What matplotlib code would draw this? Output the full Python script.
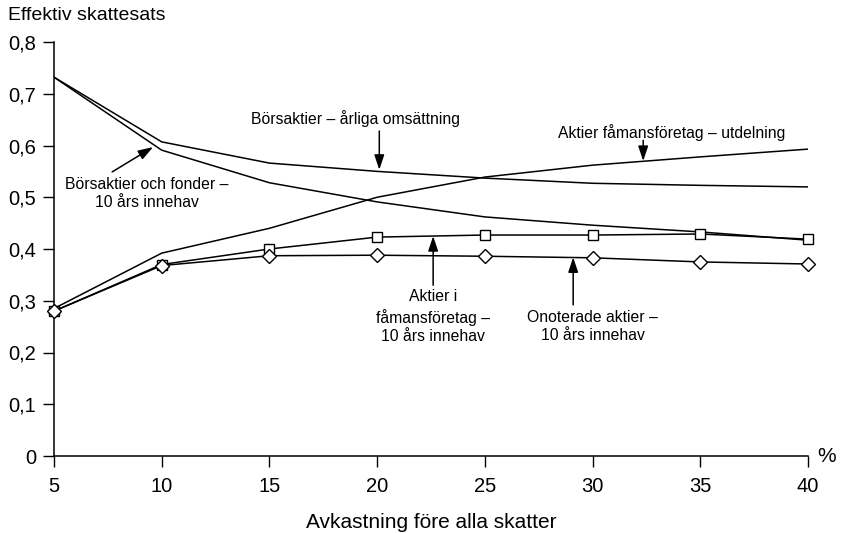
import matplotlib
matplotlib.use("Agg")
import matplotlib.pyplot as plt

plt.rcParams['font.family'] = ['Liberation Sans', 'DejaVu Sans']

# data
avkastning = [5, 10, 15, 20, 25, 30, 35, 40]
bors_arlig = [0.732, 0.607, 0.566, 0.550, 0.537, 0.527, 0.523, 0.520]
bors_10ar = [0.732, 0.591, 0.528, 0.491, 0.462, 0.446, 0.433, 0.417]
faman_utd = [0.285, 0.392, 0.440, 0.500, 0.539, 0.562, 0.578, 0.593]
faman_10ar = [0.280, 0.370, 0.400, 0.423, 0.427, 0.427, 0.429, 0.419]
onoterade_10ar = [0.280, 0.368, 0.387, 0.388, 0.386, 0.383, 0.375, 0.371]

yticks = [0, 0.1, 0.2, 0.3, 0.4, 0.5, 0.6, 0.7, 0.8]
ytick_labels = ['0', '0,1', '0,2', '0,3', '0,4', '0,5', '0,6', '0,7', '0,8']

fig = plt.figure(figsize=(8.41, 5.33), dpi=100)
ax = fig.add_axes([54/841, 1-456/533, (808-54)/841, (456-42)/533])

ax.plot(avkastning, bors_arlig, color='black', lw=1.1)
ax.plot(avkastning, bors_10ar, color='black', lw=1.1)
ax.plot(avkastning, faman_utd, color='black', lw=1.1)
ax.plot(avkastning, faman_10ar, color='black', lw=1.1, marker='s', ms=6.5,
        mfc='white', mec='black', mew=1.0, zorder=3, clip_on=False)
ax.plot(avkastning, onoterade_10ar, color='black', lw=1.1, marker='D', ms=7.5,
        mfc='white', mec='black', mew=1.0, zorder=4, clip_on=False)

ax.set_xlim(5, 40)
ax.set_ylim(0, 0.8)
ax.set_xticks(avkastning)
ax.set_yticks(yticks)
ax.set_yticklabels(ytick_labels)
ax.spines['top'].set_visible(False)
ax.spines['right'].set_visible(False)
ax.spines['left'].set_linewidth(1.1)
ax.spines['bottom'].set_linewidth(1.1)
ax.tick_params(axis='both', direction='out', length=8, width=1.0, labelsize=14.5)
ax.tick_params(axis='x', pad=7)
ax.tick_params(axis='y', pad=5)

fig.text(8/841, 1-16/533, 'Effektiv skattesats', fontsize=14, ha='left', va='center')
ax.text(1.012, 0.0, '%', transform=ax.transAxes, fontsize=15, ha='left', va='center')
ax.set_xlabel('Avkastning före alla skatter', fontsize=15, labelpad=12)

arrow = dict(arrowstyle='-|>,head_length=0.9,head_width=0.3', color='black', lw=1.1,
             shrinkA=0, shrinkB=0)
fs = 11.3

ax.text(19.0, 0.653, 'Börsaktier – årliga omsättning', fontsize=fs, ha='center', va='center')
ax.annotate('', xy=(20.1, 0.553), xytext=(20.1, 0.628), arrowprops=arrow)

ax.text(33.66, 0.626, 'Aktier fåmansföretag – utdelning', fontsize=fs, ha='center', va='center')
ax.annotate('', xy=(32.35, 0.570), xytext=(32.35, 0.610), arrowprops=arrow)

ax.text(9.3, 0.507, 'Börsaktier och fonder –\n10 års innehav', fontsize=fs,
        ha='center', va='center', linespacing=1.3)
ax.annotate('', xy=(9.6, 0.597), xytext=(7.7, 0.549), arrowprops=arrow)

ax.text(22.6, 0.269, 'Aktier i\nfåmansföretag –\n10 års innehav', fontsize=fs,
        ha='center', va='center', linespacing=1.3)
ax.annotate('', xy=(22.6, 0.425), xytext=(22.6, 0.330), arrowprops=arrow)

ax.text(30.0, 0.25, 'Onoterade aktier –\n10 års innehav', fontsize=fs,
        ha='center', va='center', linespacing=1.3)
ax.annotate('', xy=(29.1, 0.384), xytext=(29.1, 0.292), arrowprops=arrow)

fig.savefig('out.png', dpi=100)
